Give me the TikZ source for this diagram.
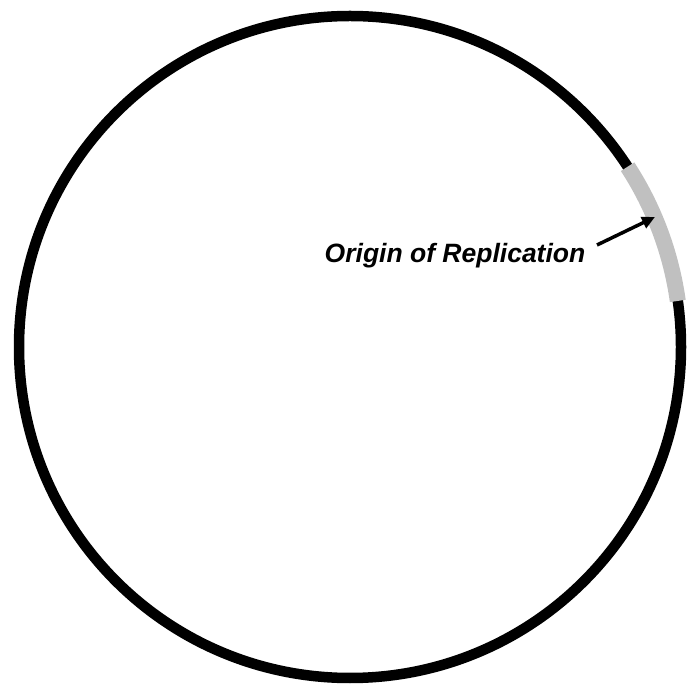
\documentclass[tikz,border=0pt]{standalone}
\usepackage{fontspec}
\setmainfont{Liberation Sans}
\usetikzlibrary{arrows.meta}
\definecolor{origray}{HTML}{C0C0C0}
\tikzset{
  ring/.style={draw=black, line width=10.5pt},
  orib/.style={draw=origray, line width=16pt, line cap=butt},
  lbltext/.style={font=\fontsize{26.5}{30}\selectfont\bfseries\itshape, inner sep=0pt, anchor=base},
  pointer/.style={draw=black, line width=3.5pt, -{Triangle[length=13pt,width=12pt]}}
}
\begin{document}
\begin{tikzpicture}[x=1pt,y=1pt]
  \useasboundingbox (0,0) rectangle (696,683);
  \coordinate (c) at (350,336);
  \draw[ring] (c) circle (331);
  \draw[orib] ([shift={(8:331)}]c) arc[start angle=8, end angle=33, radius=331];
  \node[lbltext] (lbl) at (455,420) {Origin of Replication};
  \coordinate (astart) at (597,438);
  \coordinate (atip) at (655,466);
  \draw[pointer] (astart) -- (atip);
\end{tikzpicture}
\end{document}
